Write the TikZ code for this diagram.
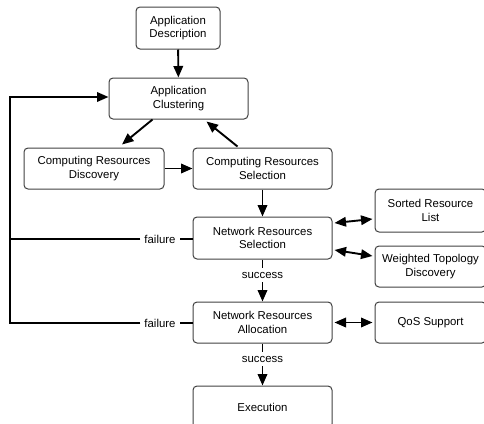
\documentclass[tikz,border=0pt]{standalone}
\usepackage{fontspec}
\setmainfont{Liberation Sans}
\usetikzlibrary{arrows.meta,calc}
\begin{document}
\begin{tikzpicture}[x=1pt,y=-1pt,
  font=\fontsize{11.4}{13.5}\selectfont,
  box/.style={draw=black!75, line width=1pt, rounded corners=4pt, align=center, inner sep=0pt},
  arr/.style={line width=1.9pt, -{Triangle[length=11.5pt,width=9.5pt]}},
  darr/.style={line width=1.9pt, {Triangle[length=11.5pt,width=9.5pt]}-{Triangle[length=11.5pt,width=9.5pt]}},
  ln/.style={line width=1.9pt},
  lbl/.style={inner sep=4pt, fill=white}]
\useasboundingbox (0,0) rectangle (484,423);
\begin{scope}
\clip (0,0) rectangle (484,423);
% main column
\node[box, minimum width=84pt, minimum height=42pt] (desc) at (178,28) {Application\\Description};
\node[box, minimum width=139pt, minimum height=41pt] (clu) at (178.5,98.5) {Application\\Clustering};
\node[box, minimum width=140pt, minimum height=41pt] (crd) at (94,168.5) {Computing Resources\\Discovery};
\node[box, minimum width=139pt, minimum height=41pt] (crs) at (262.5,168.5) {Computing Resources\\Selection};
\node[box, minimum width=139pt, minimum height=42pt] (nrs) at (262.5,238) {Network Resources\\Selection};
\node[box, minimum width=139pt, minimum height=41pt] (nra) at (262.5,322.5) {Network Resources\\Allocation};
\node[box, minimum width=139pt, minimum height=42pt] (exe) at (262.5,407) {Execution};
% side boxes
\node[box, minimum width=111pt, minimum height=43pt] (srl) at (430.5,210.5) {Sorted Resource\\List};
\node[box, minimum width=111pt, minimum height=41pt] (wtd) at (430.5,266.5) {Weighted Topology\\Discovery};
\node[box, minimum width=111pt, minimum height=41pt] (qos) at (430.5,322.5) {QoS Support};
% labels
\node[lbl] (f1) at (160,239) {failure};
\node[lbl] (f2) at (160,323) {failure};
\node[lbl] (s1) at (262.5,275) {success};
\node[lbl] (s2) at (262.5,359) {success};
\coordinate (loopB) at (10,323);
\coordinate (loopT) at (10,97);
% connectors
\draw[arr] (desc) -- (clu);
\draw[arr] ($(clu.south)+(-26,0)$) -- ($(crd.north)+(28,-3)$);
\draw[arr] ($(crs.north)+(-25,-1)$) -- ($(clu.south)+(28,2)$);
\draw[arr] (crd) -- (crs);
\draw[arr] (crs) -- (nrs);
\draw[ln] (nrs) -- (s1);
\draw[arr] (s1) -- (nra);
\draw[ln] (nra) -- (s2);
\draw[arr] (s2) -- (exe);
\draw[darr] ($(nrs.east)+(2,-15)$) -- ($(srl.west)+(-2,8.5)$);
\draw[darr] ($(nrs.east)+(2,12)$) -- ($(wtd.west)+(-2,-10.5)$);
\draw[darr] ($(nra.east)+(2,0)$) -- ($(qos.west)+(-2,0)$);
% failure loop back to clustering
\draw[ln] (nrs.west |- f1) -- (f1);
\draw[ln] (nra.west |- f2) -- (f2);
\draw[ln] (f1.west) -- (f1.west -| loopB);
\draw[arr] (f2.west) -- (loopB) -- (loopT) -- (clu.west |- loopT);
\end{scope}
\end{tikzpicture}
\end{document}
